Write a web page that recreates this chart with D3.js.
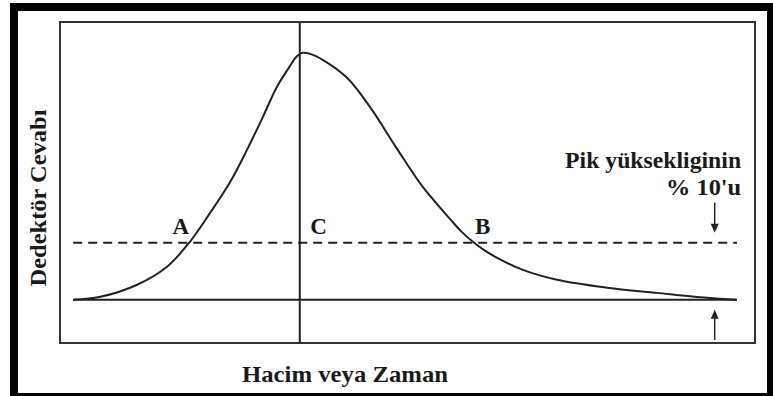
<!DOCTYPE html>
<html>
<head>
<meta charset="utf-8">
<script src="https://cdn.jsdelivr.net/npm/d3@7"></script>
<style>
  body { margin: 0; background: #fff; }
</style>
</head>
<body>
<div id="chart"></div>
<script>
// peak curve (x: 0..100 across the box, y: 0 = baseline, 100 = peak)
const timeVals = [1.9, 5.8, 11.1, 15.4, 18.7, 21.6, 24.5, 26.9, 29.2, 31.2, 33.1, 34.0, 34.8,
    36.0, 37.8, 41.3, 44.6, 48.5, 52.2, 56.1, 57.8, 59.4, 61.2, 62.9, 66.6, 71.5, 78.7, 85.9, 93.1, 97.4];
const responseVals = [0, 1.2, 6.1, 13.4, 23.5, 35.2, 47.8, 60.7, 74.1, 86.2, 94.7, 98.4, 100,
    99.6, 97.2, 89.9, 78.1, 61.1, 45.7, 32.8, 27.5, 23.5, 19.8, 17.0, 12.1, 8.1, 4.9, 2.8, 0.8, 0];
const peakTime = 34.5;
const baseLevel = 0;
const dashLevel = 23.1;
const lineStart = 1.9, lineEnd = 97.4;
const arrowTime = 94.2;
const pointLabels = [{t: 'A', x: 17.4}, {t: 'C', x: 36.0}, {t: 'B', x: 59.7}];
const noteLines = ['Pik yüksekliginin', '% 10\'u'];
const xTitle = 'Hacim veya Zaman';
const yTitle = 'Dedektör Cevabı';

const width = 773, height = 396;
const margin = {left: 60, right: 18, top: 22, bottom: 53};
const serif = "'Liberation Serif', 'Times New Roman', Tinos, 'DejaVu Serif', serif";

const svg = d3.select('#chart').append('svg')
    .attr('width', width)
    .attr('height', height);

// outer black frame
svg.append('rect').attr('x', 10).attr('y', 3).attr('width', width - 10).attr('height', height - 3).attr('fill', '#000');
svg.append('rect').attr('x', 18).attr('y', 11).attr('width', 749).attr('height', 382).attr('fill', '#fff');

const x = d3.scaleLinear().domain([0, 100]).range([margin.left, width - margin.right]);
const y = d3.scaleLinear().domain([-17.5, 112.5]).range([height - margin.bottom, margin.top]);

const g = svg.append('g');
const ink = '#222';

// plot box
g.append('rect')
    .attr('x', x(0)).attr('y', y(112.5))
    .attr('width', x(100) - x(0)).attr('height', y(-17.5) - y(112.5))
    .attr('fill', 'none').attr('stroke', '#333').attr('stroke-width', 2);

// baseline and 10% line
g.append('line')
    .attr('x1', x(lineStart)).attr('x2', x(lineEnd))
    .attr('y1', y(baseLevel)).attr('y2', y(baseLevel))
    .attr('stroke', ink).attr('stroke-width', 2);
g.append('line')
    .attr('x1', x(lineStart)).attr('x2', x(lineEnd))
    .attr('y1', y(dashLevel)).attr('y2', y(dashLevel))
    .attr('stroke', ink).attr('stroke-width', 2)
    .attr('stroke-dasharray', '9,6');

// peak vertical
g.append('line')
    .attr('x1', x(peakTime)).attr('x2', x(peakTime))
    .attr('y1', y(112.5)).attr('y2', y(-17.5))
    .attr('stroke', ink).attr('stroke-width', 2);

const pts = timeVals.map((t, i) => ({x: t, y: responseVals[i]}));
const lineBuilder = d3.line()
    .x(d => x(d.x))
    .y(d => y(d.y))
    .curve(d3.curveCatmullRom.alpha(0.5));
g.append('path')
    .attr('d', lineBuilder(pts))
    .attr('fill', 'none')
    .attr('stroke', ink)
    .attr('stroke-width', 2);

function label(sel) {
    return sel.style('font-family', serif)
        .style('font-weight', 'bold')
        .style('fill', '#1a1a1a')
        .attr('font-size', 23);
}

// A, C, B
g.selectAll('.plabel')
    .data(pointLabels)
    .enter()
    .append('text')
    .attr('class', 'plabel')
    .attr('x', d => x(d.x))
    .attr('y', y(dashLevel) - 9)
    .attr('text-anchor', d => d.t === 'A' ? 'middle' : 'start')
    .call(label)
    .text(d => d.t);

// note text
const noteWidths = [176, 75];
g.selectAll('.note')
    .data(noteLines)
    .enter()
    .append('text')
    .attr('class', 'note')
    .attr('x', x(98.0))
    .attr('y', (d, i) => y(53.4) + i * 27)
    .attr('text-anchor', 'end')
    .call(label)
    .attr('textLength', (d, i) => noteWidths[i])
    .attr('lengthAdjust', 'spacingAndGlyphs')
    .text(d => d);

// arrows
const ax = x(arrowTime);
function arrow(yFrom, yTip) {
    const dir = yTip > yFrom ? 1 : -1;
    g.append('line')
        .attr('x1', ax).attr('x2', ax)
        .attr('y1', yFrom).attr('y2', yTip - dir * 6)
        .attr('stroke', ink).attr('stroke-width', 1.5);
    g.append('path')
        .attr('d', `M${ax},${yTip} L${ax - 4},${yTip - dir * 9} L${ax + 4},${yTip - dir * 9} Z`)
        .attr('fill', ink);
}
arrow(y(39.3), y(dashLevel) - 10);
arrow(y(-16.2), y(baseLevel) + 10);

// axis titles
svg.append('text')
    .attr('x', 345).attr('y', 382)
    .attr('text-anchor', 'middle')
    .call(label)
    .attr('textLength', 206)
    .attr('lengthAdjust', 'spacingAndGlyphs')
    .text(xTitle);
svg.append('text')
    .attr('transform', 'translate(46,198) rotate(-90)')
    .attr('text-anchor', 'middle')
    .call(label)
    .attr('textLength', 177)
    .attr('lengthAdjust', 'spacingAndGlyphs')
    .text(yTitle);
</script>
</body>
</html>
